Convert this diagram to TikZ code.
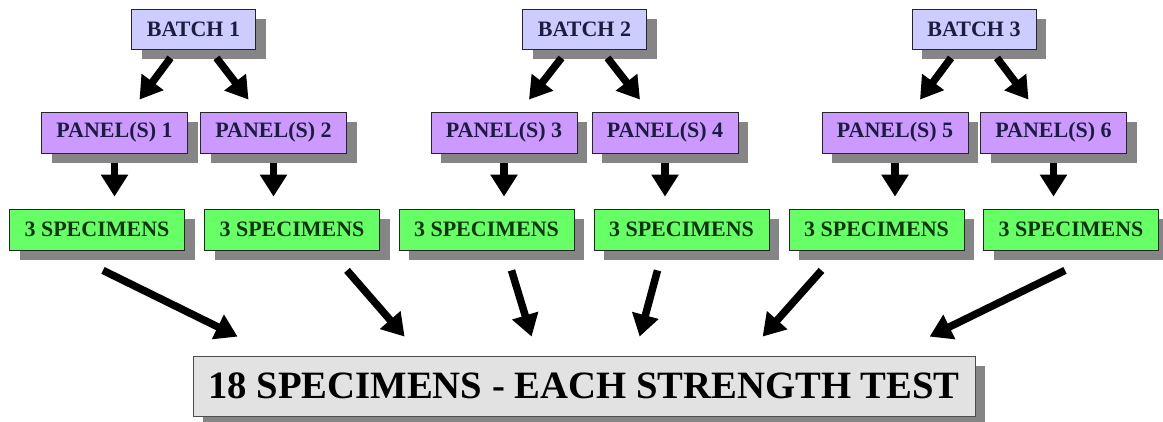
\documentclass[tikz,border=0pt]{standalone}
\usepackage{fontspec}
\setmainfont{Liberation Serif}
\usetikzlibrary{arrows.meta,shadows}
\usepackage{xcolor}
\definecolor{batchfill}{HTML}{CCCCFF}
\definecolor{panelfill}{HTML}{CC99FF}
\definecolor{specfill}{HTML}{66FF66}
\definecolor{testfill}{HTML}{E2E2E2}
\definecolor{inkblue}{HTML}{1C1C40}
\definecolor{inkgreen}{HTML}{123212}

\tikzset{
  box/.style={draw=black!85,line width=0.8pt,inner sep=0pt,
    font=\bfseries\fontsize{22}{24}\selectfont,
    drop shadow={shadow xshift=10pt,shadow yshift=-10pt,fill=black!48,opacity=1}},
  batchbox/.style={box,fill=batchfill,text=inkblue,minimum width=124pt,minimum height=40pt},
  panelbox/.style={box,fill=panelfill,text=inkblue,minimum width=146pt,minimum height=41pt},
  specbox/.style={box,fill=specfill,text=inkgreen,minimum width=175pt,minimum height=41pt},
  testbox/.style={box,fill=testfill,text=black,draw=black!70,minimum width=782pt,minimum height=60pt,
    font=\bfseries\fontsize{38.7}{40}\selectfont},
  fat/.style={-{Triangle[length=22pt,width=26pt]},line width=7.5pt},
}

\begin{document}
\begin{tikzpicture}[x=1pt,y=-1pt]
\useasboundingbox (0,0) rectangle (1163,422);
% batches
\foreach \n/\x in {1/193.5,2/584.5,3/974}{
  \node[batchbox] (b\n) at (\x,29.5) {BATCH \n};}
% panels
\foreach \n/\x in {1/114.5,2/273.5,3/504,4/665,5/895,6/1053.5}{
  \node[panelbox] (p\n) at (\x,132.5) {PANEL(S) \n};}
% specimens
\foreach \n/\x in {1/97,2/292,3/486.5,4/681.5,5/876.5,6/1071}{
  \node[specbox] (s\n) at (\x,229.5) {3 SPECIMENS};}
% strength test
\node[testbox] (tb) at (584,386) {18 SPECIMENS - EACH STRENGTH TEST};
% batch -> panels
\foreach \b/\l/\r in {1/1/2,2/3/4,3/5/6}{
  \draw[fat] ([xshift=-23pt,yshift=-8pt]b\b.south) -- ([xshift=25pt,yshift=12pt]p\l.north);
  \draw[fat] ([xshift=23pt,yshift=-8pt]b\b.south) -- ([xshift=-25pt,yshift=12pt]p\r.north);}
% panel -> specimens
\foreach \n in {1,...,6}{
  \draw[fat,shorten <=10pt,shorten >=12pt] (p\n.south) -- (p\n.south |- s\n.north);}
% specimens -> test
\foreach \n/\dx/\tx in {1/6/45,2/55/212,3/25/339,4/-24/447,5/-55/570,6/-6/737}{
  \draw[fat] ([xshift=\dx pt,yshift=-20pt]s\n.south) -- ([xshift=\tx pt,yshift=19pt]tb.north west);}
\end{tikzpicture}
\end{document}
